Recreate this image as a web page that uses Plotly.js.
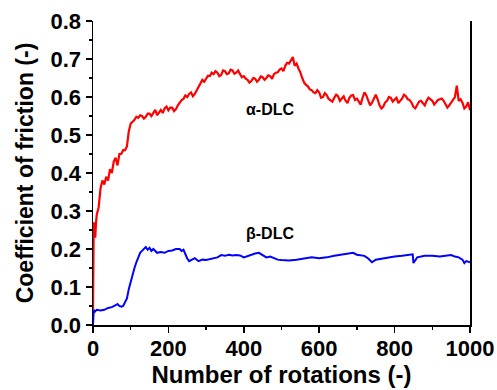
<!DOCTYPE html>
<html><head><meta charset="utf-8">
<script src="https://cdn.plot.ly/plotly-3.0.1.min.js"></script>
<style>html,body{margin:0;padding:0;background:#fff}</style>
</head><body><div id="chart" style="width:497px;height:390px"></div>
<script>
const alphaX = [0,2,4,6,8,10,15,20,25,30,35,40,45,50,55,60,65,70,75,80,85,90,95,100,105,110,115,120,125,130,135,140,145,150,155,160,165,170,175,180,185,190,195,200,205,210,215,220,225,230,235,240,245,250,255,260,265,270,275,280,285,290,295,300,305,310,315,320,325,330,335,340,345,350,355,360,365,370,375,380,385,390,395,400,405,410,415,420,425,430,435,440,445,450,455,460,465,470,475,480,485,490,495,500,505,510,515,520,525,530,535,540,545,550,555,560,565,570,575,580,585,590,595,600,605,610,615,620,625,630,635,640,645,650,655,660,665,670,675,680,685,690,695,700,705,710,715,720,725,730,735,740,745,750,755,760,765,770,775,780,785,790,795,800,805,810,815,820,825,830,835,840,845,850,855,860,865,870,875,880,885,890,895,900,905,910,915,920,925,930,935,940,945,950,955,960,965,970,975,980,985,990,995,1000];
const alphaY = [0.04,0.27,0.25,0.23,0.27,0.29,0.31,0.36,0.38,0.37,0.39,0.38,0.41,0.40,0.43,0.44,0.42,0.45,0.45,0.46,0.46,0.47,0.51,0.53,0.535,0.54,0.548,0.545,0.552,0.55,0.543,0.548,0.556,0.556,0.550,0.56,0.566,0.552,0.560,0.566,0.558,0.57,0.575,0.565,0.572,0.572,0.563,0.568,0.578,0.585,0.592,0.595,0.604,0.60,0.608,0.612,0.602,0.608,0.618,0.625,0.635,0.645,0.640,0.648,0.656,0.655,0.664,0.66,0.668,0.664,0.655,0.658,0.670,0.668,0.660,0.662,0.672,0.67,0.661,0.664,0.670,0.66,0.652,0.655,0.648,0.645,0.638,0.642,0.650,0.648,0.640,0.645,0.654,0.652,0.645,0.65,0.657,0.655,0.648,0.66,0.664,0.665,0.672,0.675,0.668,0.682,0.690,0.688,0.698,0.705,0.682,0.688,0.675,0.665,0.650,0.638,0.632,0.628,0.620,0.618,0.612,0.61,0.618,0.612,0.598,0.60,0.610,0.605,0.595,0.592,0.588,0.598,0.606,0.602,0.590,0.596,0.602,0.59,0.584,0.598,0.604,0.605,0.592,0.596,0.588,0.58,0.598,0.612,0.604,0.59,0.578,0.585,0.596,0.606,0.594,0.578,0.570,0.575,0.586,0.59,0.600,0.598,0.588,0.592,0.598,0.584,0.590,0.596,0.606,0.602,0.594,0.592,0.585,0.574,0.570,0.58,0.588,0.59,0.584,0.578,0.590,0.598,0.594,0.59,0.580,0.586,0.592,0.594,0.596,0.59,0.582,0.572,0.578,0.585,0.592,0.6,0.630,0.59,0.594,0.585,0.570,0.575,0.586,0.565];
const betaX = [0,2,5,10,20,30,40,50,60,65,70,75,80,85,90,95,100,105,110,115,120,125,130,135,140,145,150,155,160,170,180,190,200,210,220,230,235,240,245,250,255,260,270,280,290,300,310,320,330,340,350,360,370,380,390,400,410,420,430,440,450,460,470,480,490,500,520,540,560,580,600,620,640,660,680,690,700,720,730,740,750,760,780,800,820,840,848,850,860,880,900,920,940,950,960,970,980,985,990,1000];
const betaY = [0.0,0.04,0.035,0.04,0.038,0.04,0.045,0.047,0.052,0.055,0.05,0.048,0.05,0.06,0.07,0.095,0.115,0.13,0.15,0.165,0.178,0.19,0.195,0.2,0.205,0.198,0.203,0.195,0.2,0.19,0.192,0.19,0.195,0.196,0.2,0.2,0.195,0.198,0.185,0.175,0.168,0.17,0.176,0.168,0.172,0.171,0.174,0.176,0.178,0.184,0.182,0.185,0.183,0.184,0.183,0.178,0.182,0.184,0.188,0.19,0.185,0.178,0.18,0.175,0.172,0.171,0.17,0.172,0.175,0.178,0.176,0.178,0.182,0.185,0.187,0.19,0.185,0.182,0.175,0.165,0.172,0.174,0.176,0.18,0.182,0.184,0.186,0.163,0.178,0.182,0.182,0.18,0.182,0.184,0.18,0.178,0.172,0.163,0.168,0.165];
const xTicks = [0,200,400,600,800,1000];
const yTicks = [0.0,0.1,0.2,0.3,0.4,0.5,0.6,0.7,0.8];
const labelA = {text:'α-DLC', x:470, y:0.568};
const labelB = {text:'β-DLC', x:470, y:0.242};

const font = 'Liberation Sans, Arial, sans-serif';
const traces = [
  {x: alphaX, y: alphaY, type:'scatter', mode:'lines', line:{color:'#ff0000', width:2.2}, hoverinfo:'skip'},
  {x: betaX, y: betaY, type:'scatter', mode:'lines', line:{color:'#0000ff', width:2}, hoverinfo:'skip'}
];
const axCommon = {showline:true, linecolor:'#000', linewidth:1.5, ticks:'outside', ticklen:6, tickwidth:1.5, tickcolor:'#000', showgrid:false, zeroline:false};
const layout = {
  width:497, height:390, showlegend:false,
  margin:{l:93, r:27, t:21, b:65},
  paper_bgcolor:'#fff', plot_bgcolor:'#fff',
  font:{family:font, color:'#000'},
  xaxis: Object.assign({}, axCommon, {range:[0,1000], tickvals:xTicks, ticktext:xTicks.map(String), ticklabelstandoff:-3,
    minor:{ticks:'outside', dtick:100, ticklen:3, tickwidth:1.5, tickcolor:'#000'},
    tickfont:{family:font, size:22, color:'#000', weight:'bold'},
    title:{text:'Number of rotations (-)', font:{family:font, size:24, color:'#000', weight:'bold'}, standoff:0}}),
  xaxis2: Object.assign({}, axCommon, {range:[0,1000], overlaying:'x', side:'top', anchor:'y', tickvals:xTicks, showticklabels:false,
    minor:{ticks:'outside', dtick:100, ticklen:3, tickwidth:1.5, tickcolor:'#000'}}),
  yaxis: Object.assign({}, axCommon, {range:[0,0.8], tickvals:yTicks, ticktext:yTicks.map(v=>v.toFixed(1)), mirror:true,
    minor:{ticks:'outside', dtick:0.05, ticklen:3, tickwidth:1.5, tickcolor:'#000'},
    tickfont:{family:font, size:22, color:'#000', weight:'bold'},
    title:{text:'Coefficient of friction (-)', font:{family:font, size:23, color:'#000', weight:'bold'}, standoff:10}}),
  annotations: [labelA, labelB].map(l => ({text:l.text, x:l.x, y:l.y, xref:'x', yref:'y', showarrow:false,
    font:{family:font, size:16, color:'#000', weight:'bold'}}))
};
Plotly.newPlot('chart', traces, layout, {staticPlot:true, displayModeBar:false});
</script></body></html>
